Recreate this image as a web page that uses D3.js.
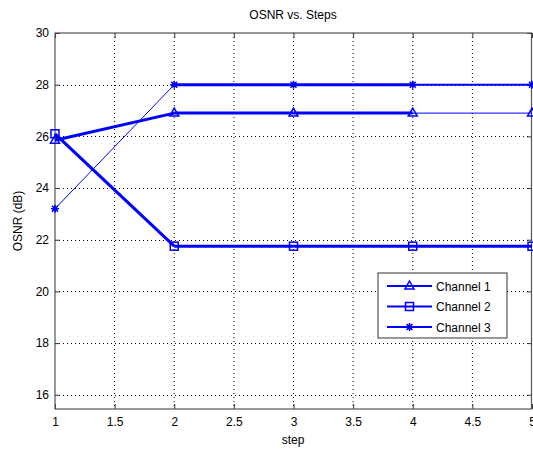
<!DOCTYPE html>
<html>
<head>
<meta charset="utf-8">
<script src="https://cdn.jsdelivr.net/npm/d3@7"></script>
<style>
  body { margin: 0; background: #fff; }
  text { font-family: "Liberation Sans", Arial, sans-serif; fill: #000; }
</style>
</head>
<body>
<svg id="chart" width="533" height="449"></svg>
<script>
'use strict';

var steps = [1, 2, 3, 4, 5];
var channelNames = ['Channel 1', 'Channel 2', 'Channel 3'];
var channel1 = [25.85, 26.9, 26.9, 26.9, 26.9];
var channel2 = [26.1, 21.75, 21.75, 21.75, 21.75];
var channel3 = [23.2, 28, 28, 28, 28];
var xTicks = [1, 1.5, 2, 2.5, 3, 3.5, 4, 4.5, 5];
var yTicks = [16, 18, 20, 22, 24, 26, 28, 30];

// line width of each segment (the figure was plotted in several passes)
var segWidths = [
    [3, 3, 3, 1],
    [3, 3, 3, 3],
    [1, 3, 3, 2]
];
var markers = ['triangle', 'square', 'star'];

var svg = d3.select('#chart');
var margin = {left: 55, right: 1, top: 33, bottom: 40};
var width = 533, height = 449;

var x = d3.scaleLinear().domain([1, 5]).range([margin.left, width - margin.right]);
var y = d3.scaleLinear().domain([15.45, 30]).range([height - margin.bottom, margin.top]);

var series = [channel1, channel2, channel3];

// grid
var grid = svg.append('g');
grid.selectAll('line.gx').data(xTicks.slice(1, -1)).enter().append('line')
    .attr('x1', function(d) { return x(d); }).attr('x2', function(d) { return x(d); })
    .attr('y1', y.range()[1]).attr('y2', y.range()[0])
    .attr('stroke', '#000').attr('stroke-width', 1).attr('stroke-dasharray', '1,3');
grid.selectAll('line.gy').data(yTicks.slice(0, -1)).enter().append('line')
    .attr('y1', function(d) { return Math.round(y(d)) + 0.5; })
    .attr('y2', function(d) { return Math.round(y(d)) + 0.5; })
    .attr('x1', x.range()[0]).attr('x2', x.range()[1])
    .attr('stroke', '#000').attr('stroke-width', 1).attr('stroke-dasharray', '1,3');

// axes
var xAxis = d3.axisBottom(x).tickValues(xTicks).tickSize(-5).tickPadding(8)
    .tickFormat(d3.format('~g'));
var yAxis = d3.axisLeft(y).tickValues(yTicks).tickSize(-5).tickPadding(6)
    .tickFormat(d3.format('~g'));

var gx = svg.append('g').attr('transform', 'translate(0,' + y.range()[0] + ')').call(xAxis);
var gy = svg.append('g').attr('transform', 'translate(' + x.range()[0] + ',0)').call(yAxis);
var gxTop = svg.append('g').attr('transform', 'translate(0,' + y.range()[1] + ')')
    .call(d3.axisTop(x).tickValues(xTicks).tickSize(-5).tickFormat(''));
var gyRight = svg.append('g').attr('transform', 'translate(' + x.range()[1] + ',0)')
    .call(d3.axisRight(y).tickValues(yTicks).tickSize(-5).tickFormat(''));

[gx, gy, gxTop, gyRight].forEach(function(g) {
    g.select('.domain').remove();
    g.selectAll('line').attr('stroke', '#333');
    g.selectAll('text').attr('font-size', 12).style('font-family', '"Liberation Sans", Arial, sans-serif');
});

svg.append('rect')
    .attr('x', x.range()[0]).attr('y', y.range()[1])
    .attr('width', x.range()[1] - x.range()[0] - 0.5)
    .attr('height', y.range()[0] - y.range()[1])
    .attr('fill', 'none').attr('stroke', '#555').attr('stroke-width', 1.2);

// series
var blue = '#0000ff';
function drawMarker(g, type, cx, cy) {
    if (type === 'triangle') {
        g.append('path')
            .attr('d', 'M' + cx + ',' + (cy - 5) + 'L' + (cx + 4.5) + ',' + (cy + 3) + 'L' + (cx - 4.5) + ',' + (cy + 3) + 'Z')
            .attr('fill', 'none').attr('stroke', blue).attr('stroke-width', 1.5);
    } else if (type === 'square') {
        g.append('rect').attr('x', cx - 4).attr('y', cy - 4).attr('width', 8).attr('height', 8)
            .attr('fill', 'none').attr('stroke', blue).attr('stroke-width', 1.5);
    } else {
        g.append('path')
            .attr('d', 'M' + (cx - 4) + ',' + cy + 'H' + (cx + 4) + 'M' + cx + ',' + (cy - 4) + 'V' + (cy + 4) +
                'M' + (cx - 3) + ',' + (cy - 3) + 'L' + (cx + 3) + ',' + (cy + 3) +
                'M' + (cx - 3) + ',' + (cy + 3) + 'L' + (cx + 3) + ',' + (cy - 3))
            .attr('stroke', blue).attr('stroke-width', 1.5);
        g.append('circle').attr('cx', cx).attr('cy', cy).attr('r', 2.5).attr('fill', blue);
    }
}

var plot = svg.append('g');
series.forEach(function(vals, si) {
    var g = plot.append('g');
    for (var i = 0; i < vals.length - 1; i++) {
        g.append('line')
            .attr('x1', x(steps[i])).attr('y1', y(vals[i]))
            .attr('x2', x(steps[i + 1])).attr('y2', y(vals[i + 1]))
            .attr('stroke', blue).attr('stroke-width', segWidths[si][i]);
    }
    vals.forEach(function(v, i) { drawMarker(g, markers[si], x(steps[i]), y(v)); });
});

// titles
svg.append('text').attr('x', 293).attr('y', 19).attr('text-anchor', 'middle')
    .attr('font-size', 12).text('OSNR vs. Steps');
svg.append('text').attr('x', 293).attr('y', 444).attr('text-anchor', 'middle')
    .attr('font-size', 12).text('step');
svg.append('text').attr('transform', 'translate(22,' + ((y.range()[0] + y.range()[1]) / 2) + ') rotate(-90)')
    .attr('text-anchor', 'middle').attr('font-size', 12).text('OSNR (dB)');

// legend
var leg = svg.append('g').attr('transform', 'translate(378,273)');
leg.append('rect').attr('width', 129).attr('height', 65)
    .attr('fill', '#fff').attr('stroke', '#333').attr('stroke-width', 1);
channelNames.forEach(function(name, i) {
    var ly = 13 + i * 20.5;
    leg.append('line').attr('x1', 9).attr('x2', 54).attr('y1', ly).attr('y2', ly)
        .attr('stroke', blue).attr('stroke-width', 2);
    drawMarker(leg, markers[i], 31.5, ly);
    leg.append('text').attr('x', 58).attr('y', ly + 4.5).attr('font-size', 12).text(name);
});
</script>
</body>
</html>
